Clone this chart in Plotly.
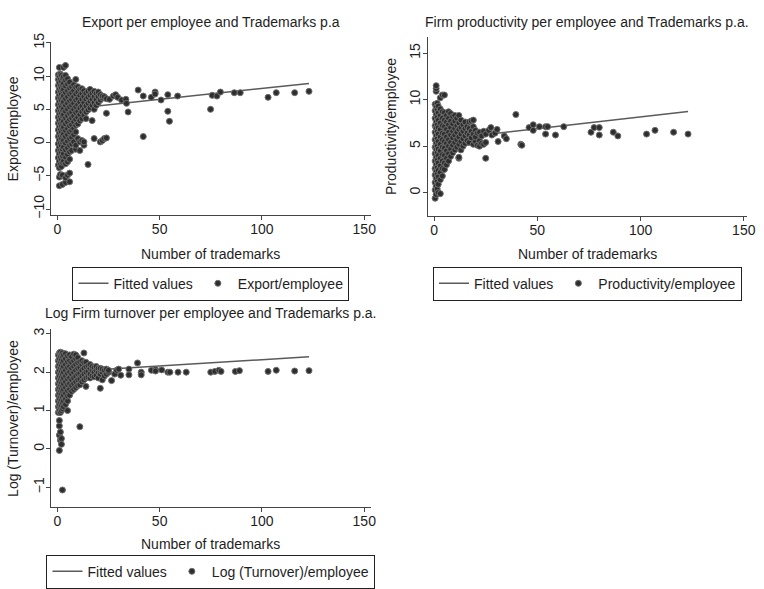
import plotly.graph_objects as go

W, H = 764, 589

# ---------------- data ----------------
# Trademarks p.a. (x) grouped into columns; y values per column
export_cols = [0.5, 1, 1.5, 2, 2.5, 3, 4, 5, 6, 7, 8, 9, 10, 11, 12, 13, 14, 15, 16, 17,
               18, 19, 20, 21, 22, 23, 24]
export_col_y = [
    [-3.4, -2.3, -1.2, -0.2, 0.9, 1.9, 2.9, 3.8, 4.8, 5.7, 6.7, 7.6, 8.6, 9.5, 10.2],
    [-6.5, -5.2, -3.8, -2.8, -1.7, -0.7, 0.4, 1.4, 2.4, 3.3, 4.3, 5.2, 6.2, 7.1, 8.1, 9.0, 9.9, 11.3],
    [-4.8, -3.3, -2.2, -1.2, -0.1, 0.9, 1.9, 2.8, 3.8, 4.7, 5.7, 6.6, 7.6, 8.5, 9.5, 10.3],
    [-3.6, -2.6, -1.5, -0.5, 0.6, 1.6, 2.5, 3.5, 4.4, 5.4, 6.3, 7.3, 8.2, 9.2, 10.1],
    [-6.3, -4.9, -3.0, -2.0, -1.0, 0.1, 1.1, 2.1, 3.0, 4.0, 4.9, 5.9, 6.8, 7.8, 8.7, 9.7],
    [-2.8, -1.7, -0.7, 0.3, 1.3, 2.3, 3.2, 4.2, 5.1, 6.1, 7.0, 8.0, 8.9, 9.9, 11.3],
    [-6.0, -5.3, -3.2, -2.2, -1.1, -0.1, 0.9, 1.8, 2.8, 3.7, 4.7, 5.6, 6.6, 7.5, 8.5, 9.4, 10.1, 11.6],
    [-4.9, -2.9, -1.8, -0.8, 0.2, 1.2, 2.1, 3.1, 4.0, 5.0, 5.9, 6.9, 7.8, 8.8, 9.6],
    [-5.9, -4.6, -2.5, -1.4, -0.4, 0.6, 1.6, 2.5, 3.5, 4.4, 5.4, 6.3, 7.3, 8.2, 9.1],
    [-1.2, -0.2, 0.8, 1.8, 2.7, 3.7, 4.6, 5.6, 6.5, 7.5, 8.4],
    [0.1, 1.2, 2.1, 3.1, 4.0, 5.0, 5.9, 6.9, 7.8, 8.7],
    [-1.0, -0.4, 1.6, 2.6, 3.5, 4.5, 5.4, 6.4, 7.3, 8.3, 9.5],
    [0.6, 2.8, 3.8, 4.7, 5.7, 6.6, 7.6, 8.4],
    [-1.2, 0.1, 3.3, 4.2, 5.2, 6.1, 7.1, 8.0],
    [0.3, 3.6, 4.6, 5.5, 6.5, 7.4, 8.1],
    [-0.4, 0.1, 4.1, 5.0, 6.0, 6.9, 7.8],
    [3.6, 4.6, 5.5, 6.5, 7.4],
    [-3.3, 4.9, 5.9, 6.8, 7.7],
    [5.2, 6.2, 7.1, 8.0],
    [3.3, 5.6, 6.5, 7.4],
    [0.6, 5.0, 6.0, 6.9, 7.7],
    [5.6, 6.5, 7.4],
    [6.0, 6.9, 7.6],
    [0.1, 6.4, 7.2],
    [0.3, 6.7, 7.0],
    [0.6, 6.9],
    [0.7, 4.4, 6.6],
]
export_out_x = [25.5, 27.4, 28.5, 29.5, 31.4, 33.5, 33.8, 34.6, 39.5, 42, 42, 45.9, 47.8, 47.8,
                50.7, 54, 54, 54.8, 58.8, 74.9, 75.7, 78, 79.7, 86.5, 89.4, 103, 107, 116, 123]
export_out_y = [6.5, 7.0, 7.2, 6.8, 6.4, 6.5, 5.9, 4.6, 7.9, 7.0, 0.9, 6.8, 7.6, 7.3,
                6.4, 7.2, 4.7, 3.2, 7.0, 5.0, 7.1, 7.0, 7.6, 7.5, 7.5, 6.8, 7.5, 7.5, 7.7]
export_fit_x = [0.2, 123]
export_fit_y = [4.85, 8.9]

prod_cols = [0.5, 1, 1.5, 2, 3, 4, 5, 6, 7, 8, 9, 10, 11, 12, 13, 14, 15, 16, 17, 18, 19,
             20, 21, 22, 23, 24, 25]
prod_col_y = [
    [-0.6, 0.3, 1.1, 1.9, 2.6, 3.4, 4.2, 4.9, 5.7, 6.5, 7.2, 8.0, 8.8, 9.5],
    [-0.2, 0.7, 1.5, 2.3, 3.0, 3.8, 4.6, 5.3, 6.1, 6.9, 7.6, 8.4, 9.2, 10.9, 11.2, 11.5],
    [0.4, 1.2, 2.0, 2.7, 3.5, 4.3, 5.0, 5.8, 6.6, 7.3, 8.1, 8.9, 9.6],
    [0.0, 0.9, 1.7, 2.4, 3.2, 4.0, 4.7, 5.5, 6.3, 7.0, 7.8, 8.6, 9.3],
    [-0.1, 1.4, 2.2, 2.9, 3.7, 4.5, 5.2, 6.0, 6.8, 7.5, 8.3, 9.0, 10.2],
    [1.8, 2.6, 3.4, 4.1, 4.9, 5.7, 6.4, 7.2, 8.0, 8.7, 10.5],
    [2.5, 3.2, 4.0, 4.8, 5.5, 6.3, 7.1, 7.8, 8.6, 10.5],
    [3.0, 3.7, 4.5, 5.3, 6.0, 6.8, 7.6, 8.3],
    [3.4, 4.2, 5.0, 5.7, 6.5, 7.3, 8.0, 8.7],
    [3.9, 4.7, 5.4, 6.2, 7.0, 7.7, 8.5],
    [4.3, 5.1, 5.9, 6.6, 7.4, 8.2],
    [4.6, 5.4, 6.2, 6.9, 7.7, 8.3],
    [4.9, 5.7, 6.5, 7.2, 8.0],
    [3.7, 3.8, 5.2, 6.0, 6.8, 7.5, 8.3],
    [4.6, 5.5, 6.3, 7.0, 7.8],
    [5.0, 5.8, 6.6, 7.3],
    [5.3, 6.1, 6.9, 7.6],
    [5.6, 6.4, 7.1],
    [5.4, 6.2, 6.9, 7.6],
    [5.9, 6.6, 7.7],
    [5.2, 6.3, 7.1, 7.8],
    [5.5, 6.0, 6.7],
    [5.1, 6.4],
    [5.0, 5.6, 6.5],
    [5.3, 6.1],
    [5.2, 6.6],
    [3.7, 5.4, 6.3],
]
prod_out_x = [26.5, 27.5, 28, 29.5, 30.5, 31, 34, 35, 39.6, 42, 42.5, 46, 48, 48, 51, 54, 54, 55,
              58.8, 62.8, 76, 77.5, 80, 80, 86.8, 89, 102.9, 107, 116, 123]
prod_out_y = [6.7, 7.0, 6.2, 6.4, 6.8, 5.5, 6.1, 5.8, 8.4, 5.2, 5.1, 7.0, 7.3, 6.7, 7.1, 6.3, 7.1, 7.1,
              6.2, 7.1, 6.5, 7.0, 7.0, 6.2, 6.5, 6.1, 6.3, 6.7, 6.5, 6.3]
prod_fit_x = [0.2, 123]
prod_fit_y = [5.62, 8.73]

turn_cols = [0.5, 1, 1.5, 2, 2.5, 3, 4, 5, 6, 7, 8, 9, 10, 11, 12, 13, 14, 15, 16, 17, 18, 19,
             20, 21, 22, 23, 24, 25]
turn_col_y = [
    [0.95, 1.1, 1.25, 1.4, 1.55, 1.7, 1.85, 2.0, 2.15, 2.3, 2.45],
    [-0.04, 0.36, 0.6, 0.74, 1.0, 1.15, 1.3, 1.45, 1.6, 1.75, 1.9, 2.05, 2.2, 2.35, 2.5],
    [0.23, 0.44, 0.95, 1.08, 1.22, 1.37, 1.52, 1.67, 1.82, 1.97, 2.12, 2.27, 2.42, 2.52],
    [0.27, 0.12, 1.0, 1.12, 1.27, 1.42, 1.57, 1.72, 1.87, 2.02, 2.17, 2.32, 2.47],
    [-1.07, 1.05, 1.2, 1.35, 1.5, 1.65, 1.8, 1.95, 2.1, 2.25, 2.4, 2.5],
    [1.1, 1.25, 1.4, 1.55, 1.7, 1.85, 2.0, 2.15, 2.3, 2.45],
    [1.16, 1.3, 1.45, 1.6, 1.75, 1.9, 2.05, 2.2, 2.35, 2.48],
    [1.0, 1.25, 1.38, 1.52, 1.67, 1.82, 1.97, 2.12, 2.27, 2.42],
    [1.4, 1.55, 1.7, 1.85, 2.0, 2.15, 2.3, 2.45],
    [1.5, 1.65, 1.8, 1.95, 2.1, 2.25, 2.4],
    [1.55, 1.7, 1.85, 2.0, 2.15, 2.3, 2.47],
    [1.6, 1.75, 1.9, 2.05, 2.2, 2.35, 2.45],
    [1.65, 1.8, 1.95, 2.1, 2.25, 2.38],
    [0.58, 1.67, 1.82, 1.97, 2.12, 2.27],
    [1.75, 1.9, 2.05, 2.2, 2.3],
    [1.8, 1.95, 2.1, 2.25, 2.5],
    [1.63, 1.85, 2.0, 2.15, 2.26],
    [1.87, 2.02, 2.17],
    [1.85, 1.95, 2.1, 2.2],
    [1.9, 2.05, 2.15],
    [1.88, 2.0, 2.12],
    [1.92, 2.05, 2.15],
    [1.85, 2.0, 2.1],
    [1.58, 1.95, 2.05, 2.1],
    [1.8, 2.0, 2.08],
    [1.9, 2.05],
    [1.95, 2.08],
    [2.0, 2.05],
]
turn_out_x = [26.5, 28, 29, 30, 31, 35, 35, 39.2, 41, 41, 46, 48, 48, 51, 54, 55, 59, 63, 75, 77,
              79, 80, 87, 89, 103, 107, 116, 123]
turn_out_y = [1.78, 1.95, 2.05, 2.08, 1.92, 2.08, 1.93, 2.24, 2.0, 1.93, 2.05, 2.07, 2.03, 2.06,
              2.0, 2.0, 2.0, 2.0, 2.0, 2.02, 2.05, 2.02, 2.02, 2.04, 2.02, 2.05, 2.03, 2.04]
turn_fit_x = [0.2, 123]
turn_fit_y = [2.0, 2.4]


def expand(cols, col_y, out_x, out_y):
    xs, ys = [], []
    for c, vals in zip(cols, col_y):
        xs += [c] * len(vals)
        ys += vals
    return xs + out_x, ys + out_y


FONT = "Liberation Sans, Arial, sans-serif"
FS = 14
TXT = "#1e1e1e"
AX = "#444444"
MARK = dict(size=6, color="#2e2e2e", line=dict(color="#6e6e6e", width=1))


def px_x(p):
    return p / W


def px_y(p):
    return 1 - p / H


panels = [
    dict(cols=export_cols, col_y=export_col_y, ox=export_out_x, oy=export_out_y,
         fx=export_fit_x, fy=export_fit_y, name="Export/employee",
         title="Export per employee and Trademarks p.a",
         box=(52, 375, 34, 211), xr=[-2.9, 153.1], yr=[-10.9, 15.1],
         yt=[-10, -5, 0, 5, 10, 15], ytext=["\u221210", "\u22125", "0", "5", "10", "15"],
         title_y=13, xtitle_y=251, ytitle_x=13, legend_y=264),
    dict(cols=prod_cols, col_y=prod_col_y, ox=prod_out_x, oy=prod_out_y,
         fx=prod_fit_x, fy=prod_fit_y, name="Productivity/employee",
         title="Firm productivity per employee and Trademarks p.a.",
         box=(433, 756, 29, 212), xr=[-3.0, 151.6], yr=[-2.5, 16.7],
         yt=[0, 5, 10, 15], ytext=["0", "5", "10", "15"],
         title_y=13, xtitle_y=251, ytitle_x=395, legend_y=264),
    dict(cols=turn_cols, col_y=turn_col_y, ox=turn_out_x, oy=turn_out_y,
         fx=turn_fit_x, fy=turn_fit_y, name="Log (Turnover)/employee",
         title="Log Firm turnover per employee and Trademarks p.a.",
         box=(52, 375, 328, 510), xr=[-2.9, 153.1], yr=[-1.51, 3.12],
         yt=[-1, 0, 1, 2, 3], ytext=["\u22121", "0", "1", "2", "3"],
         title_y=311, xtitle_y=548, ytitle_x=13, legend_y=559),
]

fig = go.Figure()
layout = dict(
    width=W, height=H, margin=dict(l=0, r=0, t=0, b=0),
    paper_bgcolor="white", plot_bgcolor="white",
    font=dict(family=FONT, size=FS, color=TXT),
    annotations=[],
)

for i, p in enumerate(panels, start=1):
    sfx = "" if i == 1 else str(i)
    lg = "legend" if i == 1 else f"legend{i}"
    xs, ys = expand(p["cols"], p["col_y"], p["ox"], p["oy"])
    fig.add_trace(go.Scatter(
        x=p["fx"], y=p["fy"], mode="lines", name="Fitted values",
        line=dict(color="#5a5a5a", width=1.5),
        xaxis=f"x{sfx}", yaxis=f"y{sfx}", legend=lg))
    fig.add_trace(go.Scatter(
        x=xs, y=ys, mode="markers", name=p["name"], marker=MARK,
        xaxis=f"x{sfx}", yaxis=f"y{sfx}", legend=lg))

    x0, x1, y0, y1 = p["box"]
    layout[f"xaxis{sfx}"] = dict(
        domain=[px_x(x0), px_x(x1)], range=p["xr"], anchor=f"y{sfx}",
        tickvals=[0, 50, 100, 150], ticks="outside", ticklen=4, tickcolor=AX,
        ticklabelstandoff=-3,
        showline=True, linecolor=AX, linewidth=1, showgrid=False, zeroline=False,
        tickfont=dict(size=FS, color=TXT))
    layout[f"yaxis{sfx}"] = dict(
        domain=[px_y(y1), px_y(y0)], range=p["yr"], anchor=f"x{sfx}",
        tickvals=p["yt"], ticktext=p["ytext"], tickangle=-90,
        ticks="outside", ticklen=4, tickcolor=AX, ticklabelstandoff=-3,
        showline=True, linecolor=AX, linewidth=1, showgrid=False, zeroline=False,
        tickfont=dict(size=FS, color=TXT))

    cx = (x0 + x1) / 2
    layout["annotations"] += [
        dict(text=p["title"], x=px_x(cx), y=px_y(p["title_y"]), xref="paper", yref="paper",
             showarrow=False, xanchor="center", yanchor="middle", font=dict(size=FS)),
        dict(text="Number of trademarks", x=px_x(cx), y=px_y(p["xtitle_y"]),
             xref="paper", yref="paper", showarrow=False,
             xanchor="center", yanchor="middle", font=dict(size=FS)),
        dict(text=p["name"], x=px_x(p["ytitle_x"]), y=px_y((y0 + y1) / 2),
             xref="paper", yref="paper", showarrow=False, textangle=-90,
             xanchor="center", yanchor="middle", font=dict(size=FS)),
    ]
    layout[lg] = dict(
        orientation="h", x=px_x(cx), y=px_y(p["legend_y"]),
        xanchor="center", yanchor="top", bgcolor="white",
        bordercolor="#222222", borderwidth=1, font=dict(size=FS, color=TXT),
        itemwidth=30, tracegroupgap=0)

layout["showlegend"] = True
fig.update_layout(**layout)
fig.write_html("out.html")
